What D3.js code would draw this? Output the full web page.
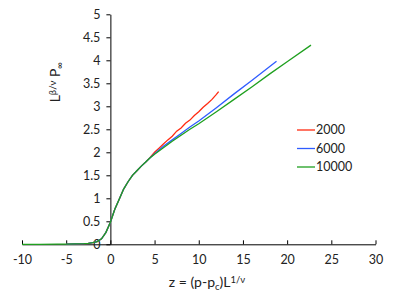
<!DOCTYPE html>
<html><head><meta charset="utf-8">
<script src="https://cdn.jsdelivr.net/npm/d3@7"></script>
<style>
body{margin:0;background:#fff;}
svg{display:block;}
text{font-family:Lato,"Open Sans",sans-serif;fill:#222;}
</style></head>
<body>
<svg id="c" width="415" height="298"></svg>
<script>
const xTicks = [-10,-5,0,5,10,15,20,25,30];
const xTickLabels = ["-10","-5","0","5","10","15","20","25","30"];
const yTicks = [0,0.5,1,1.5,2,2.5,3,3.5,4,4.5,5];
const yTickLabels = ["0","0.5","1","1.5","2","2.5","3","3.5","4","4.5","5"];
const seriesNames = ["2000","6000","10000"];
const seriesColors = ["#ff2a10","#2f5cff","#1fa01f"];

const z2000 = [-5,-4,-3,-2.5,-2,-1.5,-1,-0.5,0,0.5,1,1.5,2,2.5,3,3.5,4,4.5,5,5.5,6,6.5,7,7.5,8,8.5,9,9.5,10,10.5,11,11.5,12,12.25];
const y2000 = [0.004,0.008,0.015,0.022,0.035,0.06,0.12,0.26,0.48,0.76,0.98,1.2,1.36,1.5,1.6,1.7,1.79,1.89,2.0,2.09,2.18,2.27,2.35,2.46,2.53,2.63,2.70,2.80,2.88,2.98,3.06,3.15,3.26,3.32];

const z6000 = [-5,-4,-3,-2.5,-2,-1.5,-1,-0.5,0,0.5,1,1.5,2,2.5,3,3.5,4,4.5,5,6,7,8,9,10,12,14,16,18,18.8];
const y6000 = [0.004,0.008,0.015,0.022,0.035,0.06,0.12,0.26,0.48,0.76,0.98,1.2,1.36,1.5,1.6,1.7,1.79,1.88,1.97,2.13,2.27,2.41,2.55,2.68,2.97,3.27,3.56,3.86,3.98];

const z10000 = [-10,-8,-6,-5,-4,-3,-2.5,-2,-1.5,-1,-0.5,0,0.5,1,1.5,2,2.5,3,3.5,4,4.5,5,6,7,8,9,10,12,14,16,18,20,22.7];
const y10000 = [0,0,0.002,0.004,0.008,0.015,0.022,0.035,0.06,0.12,0.26,0.48,0.76,0.98,1.2,1.36,1.5,1.6,1.7,1.79,1.88,1.96,2.1,2.24,2.37,2.5,2.62,2.88,3.15,3.42,3.7,3.97,4.33];

const seriesZ = [z2000,z6000,z10000];
const seriesY = [y2000,y6000,y10000];

const svg = d3.select("#c");
const x = d3.scaleLinear().domain([-10,30]).range([22,375.5]);
const y = d3.scaleLinear().domain([0,5]).range([244.3,14.3]);

// x axis
const xg = svg.append("g").attr("transform",`translate(0,${y(0)})`)
  .call(d3.axisBottom(x).tickValues(xTicks).tickFormat((d,i)=>xTickLabels[i]).tickSizeInner(-4).tickSizeOuter(0).tickPadding(11));
xg.select(".domain").attr("stroke","#000");
xg.selectAll(".tick line").attr("stroke","#000");
xg.selectAll("text").style("font-size","12.5px").attr("fill","#222");

// y axis
const yg = svg.append("g").attr("transform",`translate(${x(0)},0)`)
  .call(d3.axisLeft(y).tickValues(yTicks).tickFormat((d,i)=>yTickLabels[i]).tickSizeInner(4).tickSizeOuter(0).tickPadding(6));
yg.select(".domain").attr("stroke","#000");
yg.selectAll(".tick line").attr("stroke","#000");
yg.selectAll("text").style("font-size","12.5px").attr("fill","#222");

// lines
const line = d3.line().x(d=>x(d[0])).y(d=>y(d[1]));
seriesNames.forEach((n,i)=>{
  const pts = seriesZ[i].map((z,j)=>[z,seriesY[i][j]]);
  svg.append("path").datum(pts).attr("d",line).attr("fill","none")
    .attr("stroke",seriesColors[i]).attr("stroke-width",1.3);
});

// legend
const lg = svg.append("g");
seriesNames.forEach((n,i)=>{
  const yy = 130 + i*18.5;
  lg.append("line").attr("x1",297).attr("x2",315).attr("y1",yy).attr("y2",yy)
    .attr("stroke",seriesColors[i]).attr("stroke-width",1.3);
  lg.append("text").attr("x",316).attr("y",yy).attr("dy","0.35em")
    .style("font-size","12.5px").text(n);
});

// axis titles
const xt = svg.append("text").attr("x",207).attr("y",287).attr("text-anchor","middle").style("font-size","14px");
xt.append("tspan").text("z = (p-p");
xt.append("tspan").attr("baseline-shift","-25%").style("font-size","9.5px").text("c");
xt.append("tspan").text(")L");
xt.append("tspan").attr("baseline-shift","40%").style("font-size","9.5px").text("1/ν");

const yt = svg.append("text").attr("transform","translate(60,82) rotate(-90)").attr("text-anchor","middle").style("font-size","14px");
yt.append("tspan").text("L");
yt.append("tspan").attr("baseline-shift","40%").style("font-size","9.5px").text("β/ν");
yt.append("tspan").text(" P");
yt.append("tspan").attr("baseline-shift","-25%").style("font-size","9.5px").text("∞");
</script>
</body></html>
